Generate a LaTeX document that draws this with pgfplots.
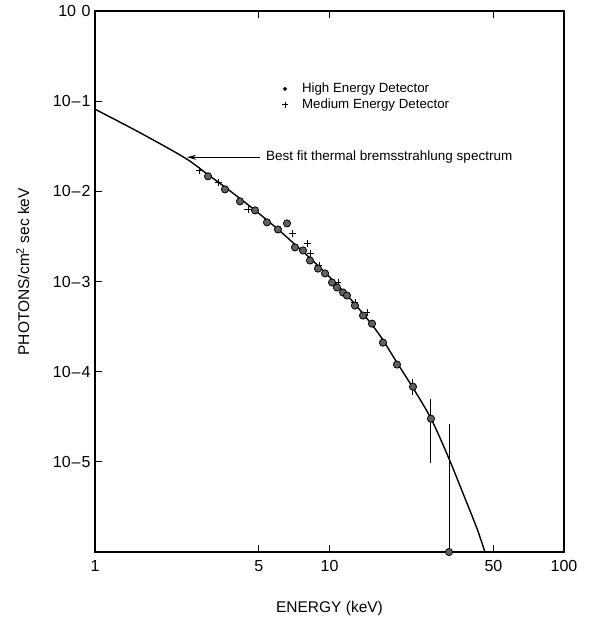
\documentclass[border=0pt]{standalone}
\usepackage{fontspec}
\setmainfont{Liberation Sans}
\usepackage{pgfplots}
\pgfplotsset{compat=1.18}
\usetikzlibrary{arrows.meta}

\begin{document}
\begin{tikzpicture}
\path[use as bounding box] (-95bp,-73bp) rectangle (495bp,552bp);
\begin{axis}[
  at={(0,0)}, anchor=south west,
  scale only axis, width=469bp, height=541bp,
  xmode=log, ymode=log,
  xmin=1, xmax=100, ymin=1e-6, ymax=1,
  xtick={1,5,10,50,100},
  xticklabels={{\mbox{1}},{\mbox{5}},{\mbox{10}},{\mbox{50}},{\mbox{100}}},
  ytick={1,1e-1,1e-2,1e-3,1e-4,1e-5,1e-6},
  yticklabels={{\mbox{10\kern1bp\ 0}},{\mbox{10\kern1bp–\kern1bp1}},{\mbox{10\kern1bp–\kern1bp2}},{\mbox{10\kern1bp–\kern1bp3}},{\mbox{10\kern1bp–\kern1bp4}},{\mbox{10\kern1bp–\kern1bp5}},{}},
  minor tick num=0,
  xtick pos=both, ytick pos=left,
  tick align=inside,
  major tick length=7bp,
  axis line style={line width=1.3bp},
  tick style={line width=1bp, black},
  ticklabel style={font=\fontsize{16bp}{19bp}\selectfont},
  xticklabel style={yshift=-5bp},
  yticklabel style={xshift=-1bp},
  xlabel={ENERGY (keV)},
  ylabel={PHOTONS/cm\textsuperscript{2} sec keV},
  label style={font=\fontsize{15.5bp}{18bp}\selectfont},
  xlabel style={at={(axis description cs:0.5,-0.1035)}, anchor=center},
  ylabel style={at={(axis description cs:-0.154,0.518)}, anchor=center},
  legend style={at={(0.392,0.874)}, anchor=north west, draw=none, fill=none,
    font=\fontsize{13.3bp}{16bp}\selectfont, row sep=0.5bp, column sep=12bp},
  legend cell align=left,
]
\addlegendimage{only marks, mark=*, mark size=1.7bp, black}
\addlegendentry{High Energy Detector}
\addlegendimage{only marks, mark=+, mark size=3bp, black, line width=0.8bp}
\addlegendentry{Medium Energy Detector}

% best fit thermal bremsstrahlung curve
\addplot[black, line width=1.4bp, smooth, forget plot] coordinates {
  (1.000,0.0815) (1.555,0.0447) (2.42,0.02344) (3.033,0.01531) (3.655,0.01072)
  (4.153,0.00832) (4.812,0.00617) (5.414,0.00479) (6.151,0.00363) (7.126,0.00257)
  (8.256,0.00182) (9.568,0.00126) (11.09,8.51e-4) (12.84,5.62e-4) (15.18,3.31e-4)
  (16.91,2.24e-4) (19.40,1.26e-4) (22.70,6.61e-5) (27.09,3.02e-5) (32.02,1.15e-5)
  (37.10,4.47e-6) (42.56,1.82e-6) (46.0,1.0e-6)
};

% error bars
\addplot[black, line width=1bp, forget plot] coordinates {(22.70,8.36e-5) (22.70,5.55e-5)};
\addplot[black, line width=1bp, forget plot] coordinates {(27.09,5.0e-5) (27.09,9.75e-6)};
\addplot[black, line width=1bp, forget plot] coordinates {(32.33,2.64e-5) (32.33,1.0e-6)};

% medium energy detector
\addplot[only marks, mark=+, mark size=3.5bp, black, line width=0.8bp, forget plot] coordinates {
  (2.80,0.0171) (3.35,0.0126) (4.49,0.0063) (6.92,0.00341) (8.02,0.00264)
  (8.26,0.00205) (9.02,0.00151) (10.87,9.75e-4) (12.84,5.85e-4) (14.45,4.53e-4)
};

% high energy detector
\addplot[only marks, mark=*, mark size=3.6bp, mark options={fill=black!62, draw=black, line width=0.8bp}, forget plot] coordinates {
  (3.033,0.01468) (3.584,0.01052) (4.153,0.00774) (4.812,0.00615) (5.414,0.00453)
  (6.03,0.00378) (6.59,0.00441) (7.126,0.00239) (7.71,0.00221) (8.256,0.00171)
  (8.93,0.00139) (9.568,0.00123) (10.25,9.75e-4) (10.76,8.58e-4) (11.42,7.55e-4)
  (11.87,6.99e-4) (12.84,5.41e-4) (13.90,4.19e-4) (15.18,3.41e-4) (16.91,2.10e-4)
  (19.40,1.20e-4) (22.70,6.81e-5) (27.09,3.01e-5) (32.33,1.0e-6)
};

\draw[line width=1bp, -{Stealth[length=9bp,width=5bp]}] (axis cs:5.05,0.02387) -- (axis cs:2.47,0.02387);
\node[anchor=west, font=\fontsize{13.5bp}{16bp}\selectfont, inner sep=0pt] at (axis cs:5.36,0.02387) {Best fit thermal bremsstrahlung spectrum};
\end{axis}
\end{tikzpicture}
\end{document}
